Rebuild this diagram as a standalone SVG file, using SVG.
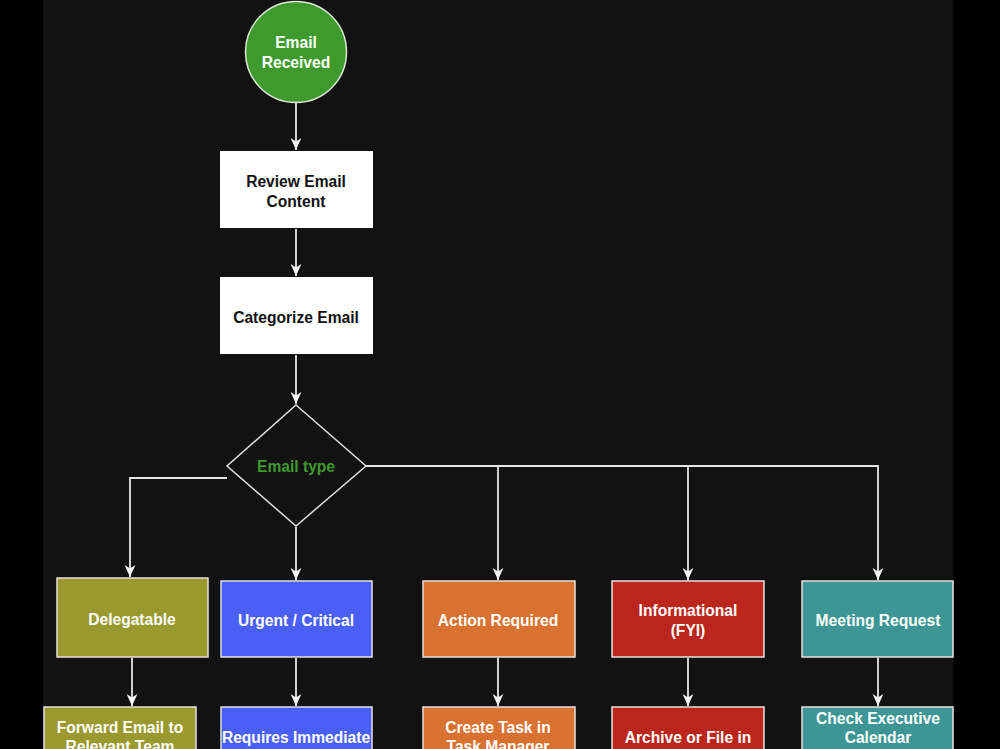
<svg xmlns="http://www.w3.org/2000/svg" width="1000" height="749" viewBox="0 0 1000 749">
<style>
.t{font-family:"Liberation Sans",Arial,sans-serif;font-weight:bold;font-size:15.6px;text-anchor:middle}
.w{fill:#ffffff}
.k{fill:#111111}
.box{stroke:#e8e0e0;stroke-width:1.5}
.edge{fill:none;stroke:#e6e6e6;stroke-width:1.8}
</style>
<defs>
<marker id="arr" viewBox="0 0 10 10" refX="10" refY="5" markerWidth="12" markerHeight="12" markerUnits="userSpaceOnUse" orient="auto">
<path d="M0,0.5 L10,5 L0,9.5 L3,5 z" fill="#f2f2f2"/>
</marker>
</defs>
<rect x="0" y="0" width="1000" height="749" fill="#000000"/>
<rect x="43" y="0" width="910" height="749" fill="#121212"/>

<g id="connectors">
<path class="edge" d="M296,103 V150" marker-end="url(#arr)"/>
<path class="edge" d="M296,229 V276" marker-end="url(#arr)"/>
<path class="edge" d="M296,355 V404" marker-end="url(#arr)"/>
<path class="edge" d="M227,478 H130 V577" marker-end="url(#arr)"/>
<path class="edge" d="M296,527 V580" marker-end="url(#arr)"/>
<path class="edge" d="M366,466 H878 V580" marker-end="url(#arr)"/>
<path class="edge" d="M498,466 V580" marker-end="url(#arr)"/>
<path class="edge" d="M688,466 V580" marker-end="url(#arr)"/>
<path class="edge" d="M132,658 V706" marker-end="url(#arr)"/>
<path class="edge" d="M296,658 V706" marker-end="url(#arr)"/>
<path class="edge" d="M498,658 V706" marker-end="url(#arr)"/>
<path class="edge" d="M688,658 V706" marker-end="url(#arr)"/>
<path class="edge" d="M878,658 V706" marker-end="url(#arr)"/>
</g>

<g id="email-received">
<circle cx="296" cy="52" r="50.5" fill="#3f9a2e" stroke="#dde8d8" stroke-width="1.5"/>
<text class="t w" x="296" y="48">Email</text>
<text class="t w" x="296" y="68">Received</text>
</g>

<g id="review-email">
<rect x="220" y="151" width="153" height="77" fill="#ffffff"/>
<text class="t k" x="296" y="187">Review Email</text>
<text class="t k" x="296" y="207">Content</text>
</g>

<g id="categorize-email">
<rect x="220" y="277" width="153" height="77" fill="#ffffff"/>
<text class="t k" x="296" y="323">Categorize Email</text>
</g>

<g id="email-type">
<path d="M296,405 L366,466 L296,526 L227,466 Z" fill="#121212" stroke="#e0e0e0" stroke-width="1.5"/>
<text class="t" x="296" y="472" fill="#3f9a2e">Email type</text>
</g>

<g id="delegatable">
<rect class="box" x="57" y="578" width="151" height="79" fill="#9a992f"/>
<text class="t w" x="132" y="625">Delegatable</text>
</g>

<g id="urgent">
<rect class="box" x="221" y="581" width="151" height="76" fill="#4a5ff5"/>
<text class="t w" x="296" y="626">Urgent / Critical</text>
</g>

<g id="action-required">
<rect class="box" x="423" y="581" width="152" height="76" fill="#d97131"/>
<text class="t w" x="498" y="626">Action Required</text>
</g>

<g id="informational">
<rect class="box" x="612" y="581" width="152" height="76" fill="#bb251b"/>
<text class="t w" x="688" y="616">Informational</text>
<text class="t w" x="688" y="636">(FYI)</text>
</g>

<g id="meeting-request">
<rect class="box" x="802" y="581" width="151" height="76" fill="#3d9695"/>
<text class="t w" x="878" y="626">Meeting Request</text>
</g>

<g id="forward-email">
<rect class="box" x="44" y="707" width="152" height="80" fill="#9a992f"/>
<text class="t w" x="120" y="733">Forward Email to</text>
<text class="t w" x="120" y="752">Relevant Team</text>
</g>

<g id="requires-immediate">
<rect class="box" x="221" y="707" width="151" height="80" fill="#4a5ff5"/>
<text class="t w" x="296" y="743">Requires Immediate</text>
</g>

<g id="create-task">
<rect class="box" x="423" y="707" width="152" height="80" fill="#d97131"/>
<text class="t w" x="498" y="733">Create Task in</text>
<text class="t w" x="498" y="752">Task Manager</text>
</g>

<g id="archive">
<rect class="box" x="612" y="707" width="152" height="80" fill="#bb251b"/>
<text class="t w" x="688" y="743">Archive or File in</text>
</g>

<g id="check-calendar">
<rect class="box" x="802" y="707" width="151" height="80" fill="#3d9695"/>
<text class="t w" x="878" y="724">Check Executive</text>
<text class="t w" x="878" y="743">Calendar</text>
</g>
</svg>
